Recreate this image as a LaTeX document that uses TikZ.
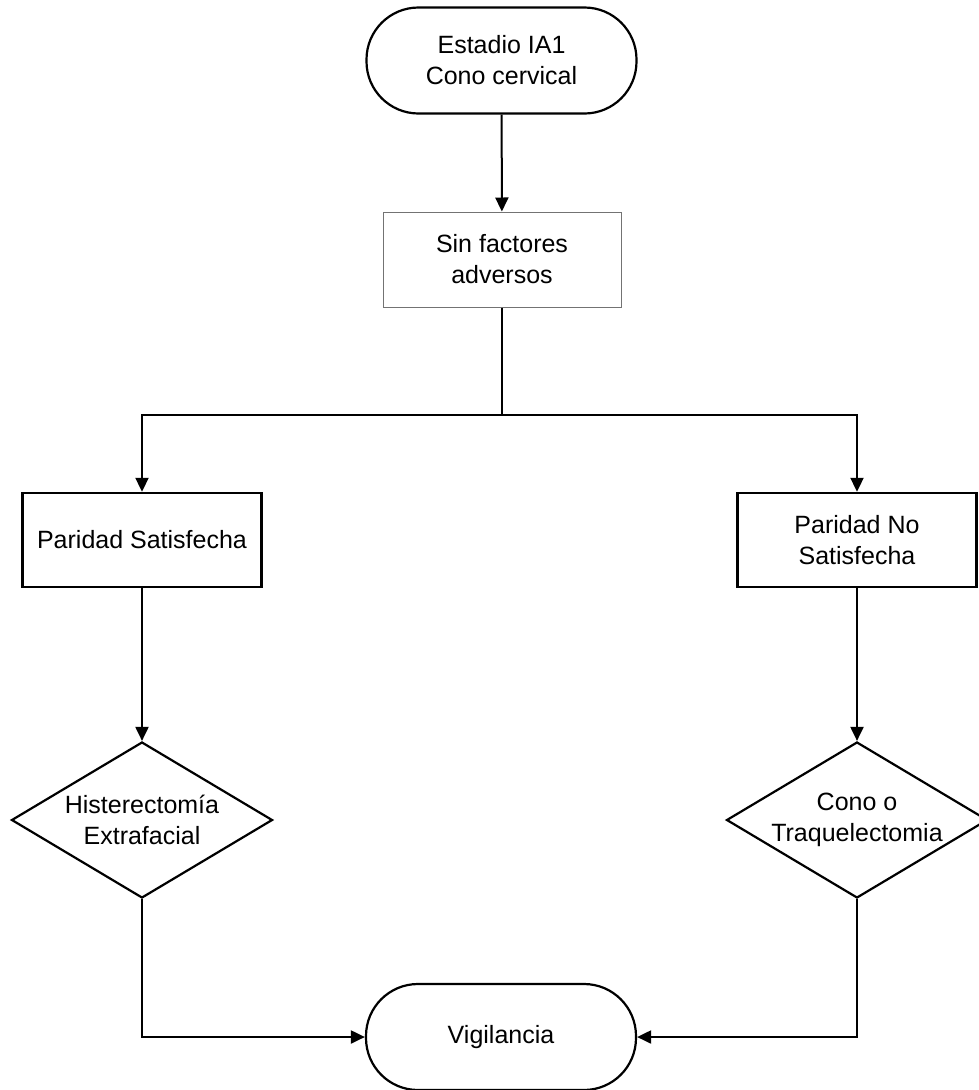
\documentclass[tikz,border=0pt]{standalone}
\usepackage{fontspec}
\setmainfont{Liberation Sans}
\usetikzlibrary{shapes.geometric,arrows.meta}
\begin{document}
\begin{tikzpicture}[x=1pt,y=-1pt,
  txt/.style={font=\fontsize{25}{31}\selectfont, align=center},
  terminal/.style={draw, line width=2.2pt, rounded corners=52pt, minimum width=270pt, minimum height=106pt, inner sep=0pt, txt},
  graybox/.style={draw=black!55, line width=1pt, minimum width=238pt, minimum height=95pt, inner sep=0pt, txt},
  blackbox/.style={draw, line width=2.4pt, minimum width=239pt, minimum height=94pt, inner sep=0pt, txt},
  decision/.style={draw, line width=2.2pt, diamond, minimum width=261pt, minimum height=156pt, inner sep=0pt},
  conn/.style={line width=2pt, -{Triangle[length=14pt,width=13pt]}},
  plain/.style={line width=2pt}]
\useasboundingbox (0,0) rectangle (979,1090);
\fill[white] (0,0) rectangle (979,1090);
\node[terminal] (start) at (501.5,60.5) {Estadio IA1\\Cono cervical};
\node[graybox] (sin) at (502,259.5) {Sin factores\\adversos};
\node[blackbox] (ps) at (142,540) {Paridad Satisfecha};
\node[blackbox] (pns) at (857,540) {Paridad No\\Satisfecha};
\node[decision] (hist) at (142,820) {};
\node[txt] (histt) at (hist.center) {Histerectomía\\Extrafacial};
\node[decision] (cono) at (857,820) {};
\node[txt] (conot) at (cono.center) {Cono o\\Traquelectomia};
\node[terminal] (vig) at (501,1037) {Vigilancia};
\coordinate (j) at (502,415);
\draw[conn] (start) -- (sin);
\draw[plain] (sin.south) -- (j);
\draw[conn] (j) -| (ps.north);
\draw[conn] (j) -| (pns.north);
\draw[conn] (ps) -- (hist.north);
\draw[conn] (pns) -- (cono.north);
\draw[conn] (hist.south) |- (vig.west);
\draw[conn] (cono.south) |- (vig.east);
\end{tikzpicture}
\end{document}
